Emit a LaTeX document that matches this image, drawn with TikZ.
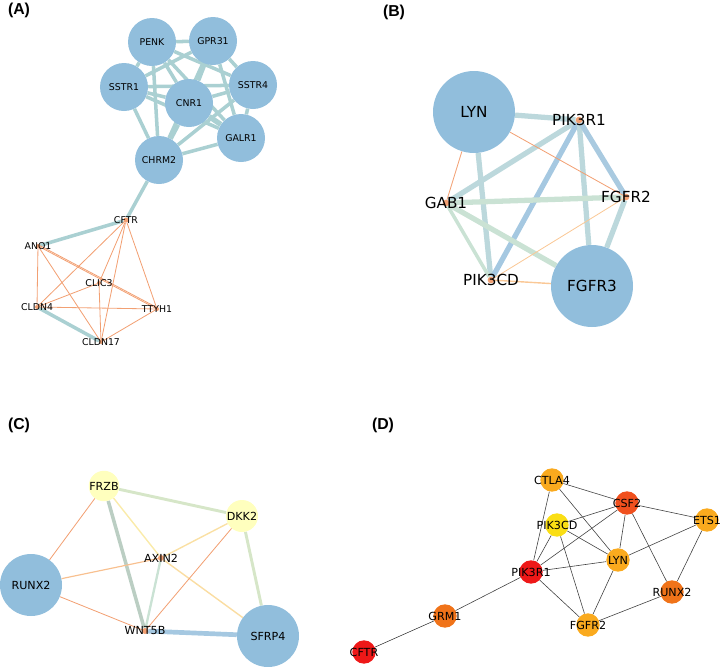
\documentclass[tikz,border=0pt]{standalone}
\usepackage{fontspec}
\setmainfont{DejaVu Sans}
\newfontfamily\panelfont{Liberation Sans}
\usetikzlibrary{backgrounds}
\definecolor{netblue}{RGB}{145,190,220}
\definecolor{netteal}{RGB}{170,208,210}
\definecolor{nettealb}{RGB}{188,216,220}
\definecolor{netsky}{RGB}{165,200,225}
\definecolor{netgreen}{RGB}{202,226,212}
\definecolor{netlime}{RGB}{214,230,200}
\definecolor{netorange}{RGB}{242,160,115}
\definecolor{netpeach}{RGB}{250,200,150}
\definecolor{netcream}{RGB}{250,235,170}
\definecolor{netyellow}{RGB}{255,255,190}
\definecolor{dred}{RGB}{238,24,24}
\definecolor{dredor}{RGB}{240,80,30}
\definecolor{ddark}{RGB}{240,115,25}
\definecolor{dgold}{RGB}{250,170,30}
\definecolor{dsun}{RGB}{250,222,20}

\begin{document}
\begin{tikzpicture}[x=0.03cm, y=-0.03cm,
    hub/.style={circle, fill=netblue, inner sep=0pt, text=black},
    dot/.style={circle, fill=netorange, inner sep=0pt},
    heat/.style={circle, inner sep=0pt, minimum size=0.7cm},
    afont/.style={font=\fontsize{8}{9}\selectfont},
    bfont/.style={font=\fontsize{13}{15}\selectfont},
    cfont/.style={font=\fontsize{9.5}{11}\selectfont},
    panel/.style={font=\panelfont\bfseries\fontsize{13.5}{15}\selectfont},
    thick edge/.style={line width=3pt, netteal},
    thin edge/.style={line width=0.7pt, netorange},
    dedge/.style={line width=0.5pt, black!75}]
\useasboundingbox (0,0) rectangle (720,667);

% Panel labels
\node[panel] (labA) at (19,10) {(A)};
\node[panel] (labB) at (394,12) {(B)};
\node[panel] (labC) at (19,425) {(C)};
\node[panel] (labD) at (383,425) {(D)};

% (A) upper cluster
\node[hub, minimum size=1.44cm, afont] (penk) at (152,42) {PENK};
\node[hub, minimum size=1.44cm, afont] (gpr31) at (213,41) {GPR31};
\node[hub, minimum size=1.44cm, afont] (sstr1) at (124,87) {SSTR1};
\node[hub, minimum size=1.44cm, afont] (cnr1) at (189,103) {CNR1};
\node[hub, minimum size=1.44cm, afont] (sstr4) at (253,85) {SSTR4};
\node[hub, minimum size=1.44cm, afont] (galr1) at (241,138) {GALR1};
\node[hub, minimum size=1.44cm, afont] (chrm2) at (159,160) {CHRM2};

% (A) lower cluster
\node[dot, minimum size=0.15cm, label={[afont]center:CFTR}] (cftr) at (126,220) {};
\node[dot, minimum size=0.12cm, label={[afont]center:ANO1}] (ano1) at (38,246) {};
\node[dot, minimum size=0.12cm, label={[afont]center:CLIC3}] (clic3) at (99,283) {};
\node[dot, minimum size=0.12cm, label={[afont]center:CLDN4}] (cldn4) at (37,307) {};
\node[dot, minimum size=0.12cm, label={[afont]center:TTYH1}] (ttyh1) at (157,309) {};
\node[dot, minimum size=0.12cm, label={[afont]center:CLDN17}] (cldn17) at (101,342) {};

% (B)
\node[hub, minimum size=2.46cm, bfont] (lyn) at (474,112) {LYN};
\node[hub, minimum size=2.46cm, bfont] (fgfr3) at (592,286) {FGFR3};
\node[dot, minimum size=0.2cm, label={[bfont]center:PIK3R1}] (pik3r1) at (579,120) {};
\node[dot, minimum size=0.2cm, label={[bfont]center:GAB1}] (gab1) at (446,203) {};
\node[dot, minimum size=0.2cm, label={[bfont]center:FGFR2}] (fgfr2) at (626,197) {};
\node[dot, minimum size=0.2cm, label={[bfont]center:PIK3CD}] (pik3cd) at (491,280) {};

% (C)
\node[hub, fill=netyellow, minimum size=0.9cm, cfont] (frzb) at (104,486) {FRZB};
\node[hub, fill=netyellow, minimum size=0.96cm, cfont] (dkk2) at (242,516) {DKK2};
\node[hub, minimum size=1.86cm, cfont] (runx2c) at (31,585) {RUNX2};
\node[hub, minimum size=1.86cm, cfont] (sfrp4) at (268,636) {SFRP4};
\node[dot, minimum size=0.18cm, label={[cfont]center:AXIN2}] (axin2) at (161,558) {};
\node[dot, minimum size=0.18cm, label={[cfont]center:WNT5B}] (wnt5b) at (145,631) {};

% (D)
\node[heat, fill=dgold] (ctla4) at (552,480) {};
\node[heat, fill=dredor] (csf2) at (627,503) {};
\node[heat, fill=dsun] (pik3cdd) at (557,525) {};
\node[heat, fill=dgold] (ets1) at (707,520) {};
\node[heat, fill=dgold] (lynd) at (618,560) {};
\node[heat, fill=dred] (pik3r1d) at (531,572) {};
\node[heat, fill=ddark] (runx2d) at (672,592) {};
\node[heat, fill=ddark] (grm1) at (445,616) {};
\node[heat, fill=dgold] (fgfr2d) at (588,625) {};
\node[heat, fill=dred] (cftrd) at (364,652) {};
\foreach \n/\t in {ctla4/CTLA4, csf2/CSF2, pik3cdd/PIK3CD, ets1/ETS1, lynd/LYN,
    pik3r1d/PIK3R1, runx2d/RUNX2, grm1/GRM1, fgfr2d/FGFR2, cftrd/CFTR}
    \node[cfont] (\n-text) at (\n) {\t};

\begin{pgfonlayer}{background}
    % (A) edges
    \foreach \a/\b in {penk/gpr31, penk/sstr1, penk/cnr1, penk/sstr4, penk/galr1, penk/chrm2,
        gpr31/sstr1, gpr31/sstr4, gpr31/galr1, gpr31/chrm2, sstr1/cnr1, sstr1/sstr4,
        sstr1/galr1, sstr1/chrm2, cnr1/sstr4, sstr4/galr1, sstr4/chrm2, galr1/chrm2}
        \draw[thick edge] (\a) -- (\b);
    \foreach \a/\b in {gpr31/cnr1, cnr1/chrm2, cnr1/galr1}
        \draw[thick edge, line width=4.5pt] (\a) -- (\b);
    \foreach \a/\b in {chrm2/cftr, cftr/ano1, cldn4/cldn17}
        \draw[thick edge] (\a) -- (\b);
    \foreach \a/\b in {cftr/cldn4, cftr/clic3, cftr/cldn17, cftr/ttyh1, ano1/cldn4,
        ano1/cldn17, clic3/cldn4, clic3/cldn17, cldn4/ttyh1, cldn17/ttyh1}
        \draw[thin edge] (\a) -- (\b);
    \draw[thin edge] (ano1) -- (ttyh1);
    \draw[thin edge] ([yshift=1.2pt]ano1.center) -- ([yshift=1.2pt]ttyh1.center);

    % (B) edges
    \draw[line width=4.5pt, nettealb] (lyn) -- (pik3r1);
    \draw[line width=4.5pt, nettealb] (lyn) -- (pik3cd);
    \draw[line width=4.5pt, nettealb] (pik3r1) -- (gab1);
    \draw[line width=4.5pt, netsky] (pik3r1) -- (pik3cd);
    \draw[line width=4.5pt, nettealb] (pik3r1) -- (fgfr3);
    \draw[line width=4.5pt, netsky!85!nettealb] (pik3r1) -- (fgfr2);
    \draw[line width=4.5pt, netgreen] (gab1) -- (fgfr2);
    \draw[line width=3pt, netgreen] (gab1) -- (pik3cd);
    \draw[line width=4.5pt, netgreen] (gab1) -- (fgfr3);
    \draw[line width=4.5pt, nettealb] (fgfr2) -- (fgfr3);
    \draw[thin edge] (lyn) -- (fgfr2);
    \draw[thin edge] (lyn) -- (gab1);
    \draw[line width=0.7pt, netpeach] (fgfr2) -- (pik3cd);
    \draw[line width=1.2pt, netpeach] (pik3cd) -- (fgfr3);

    % (C) edges
    \draw[line width=2.5pt, netlime] (frzb) -- (dkk2);
    \draw[line width=3pt, netgreen!80!gray] (frzb) -- (wnt5b);
    \draw[line width=2.5pt, netlime] (dkk2) -- (sfrp4);
    \draw[line width=2pt, netgreen] (axin2) -- (wnt5b);
    \draw[line width=1.2pt, netcream] (frzb) -- (axin2);
    \draw[line width=1.2pt, netcream!70!netpeach] (dkk2) -- (axin2);
    \draw[line width=1.2pt, netcream!60!netpeach] (axin2) -- (sfrp4);
    \draw[line width=1pt, netpeach!80!netorange] (axin2) -- (runx2c);
    \draw[thin edge] (frzb) -- (runx2c);
    \draw[thin edge] (dkk2) -- (wnt5b);
    \draw[thin edge] (runx2c) -- (wnt5b);
    \draw[line width=4pt, netsky] (wnt5b) -- (sfrp4);

    % (D) edges
    \foreach \a/\b in {ctla4/csf2, ctla4/pik3r1d, ctla4/lynd, csf2/pik3cdd, csf2/ets1,
        csf2/pik3r1d, csf2/lynd, csf2/runx2d, pik3cdd/pik3r1d, pik3cdd/lynd,
        pik3cdd/fgfr2d, ets1/lynd, ets1/runx2d, lynd/pik3r1d, lynd/fgfr2d,
        pik3r1d/fgfr2d, pik3r1d/grm1, grm1/cftrd, runx2d/fgfr2d}
        \draw[dedge] (\a) -- (\b);
\end{pgfonlayer}
\end{tikzpicture}
\end{document}
